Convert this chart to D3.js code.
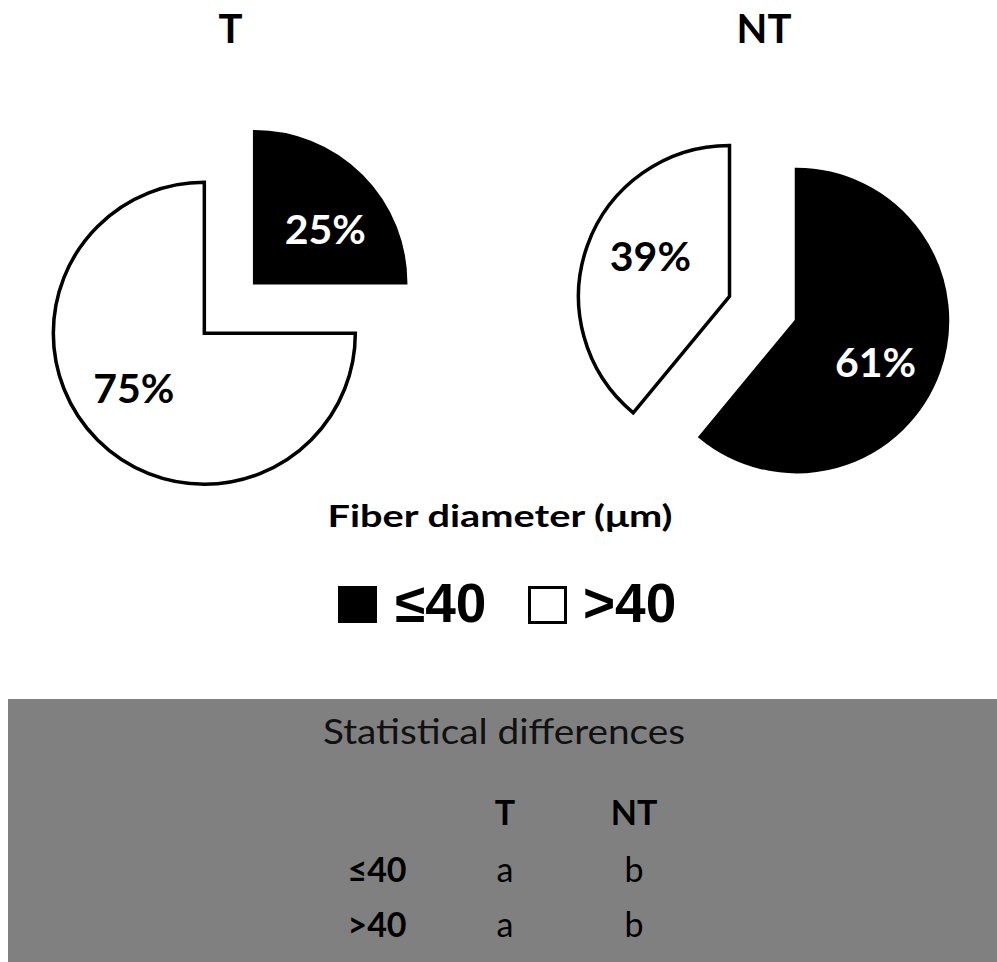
<!DOCTYPE html>
<html>
<head>
<meta charset="utf-8">
<script src="https://cdn.jsdelivr.net/npm/d3@7"></script>
<style>
  html, body { margin: 0; padding: 0; background: #fff; }
  svg { display: block; }
</style>
</head>
<body>
<svg id="chart" width="997" height="962"></svg>
<script>
// ---- data ----
const groups = ["T", "NT"];
const categories = ["≤40", ">40"];
const valuesT = [25, 75];
const valuesNT = [61, 39];
const statT = ["a", "a"];
const statNT = ["b", "b"];
const axisTitle = "Fiber diameter (μm)";
const tableTitle = "Statistical differences";

// ---- layout ----
const W = 997, H = 962;
const svg = d3.select("#chart");
const fills = d3.scaleOrdinal().domain(categories).range(["#000", "#fff"]);
const labelColor = d3.scaleOrdinal().domain(categories).range(["#fff", "#000"]);

const R = 151;
const explode = 35.6;
const labelR = 89;
const labelShift = 7.5 * Math.PI / 180;
const centers = { "T": [229.5, 308], "NT": [763, 308.5] };
const seriesByGroup = { "T": valuesT, "NT": valuesNT };

const pie = d3.pie().sort(null).value(d => d.v).startAngle(0);
const arc = d3.arc().innerRadius(0).outerRadius(R);

groups.forEach(g => {
  const [cx, cy] = centers[g];
  const data = categories.map((c, i) => ({ c, v: seriesByGroup[g][i] }));
  const arcs = pie(data);
  const gg = svg.append("g").attr("transform", `translate(${cx},${cy})`);
  const slice = gg.selectAll("g.slice").data(arcs).enter().append("g")
    .attr("class", "slice")
    .attr("transform", d => {
      const m = (d.startAngle + d.endAngle) / 2;
      return `translate(${Math.sin(m) * explode},${-Math.cos(m) * explode})`;
    });
  slice.append("path")
    .attr("d", arc)
    .attr("fill", d => fills(d.data.c))
    .attr("stroke", "#000")
    .attr("stroke-width", 3.5)
    .attr("stroke-linejoin", "miter");
  slice.append("text")
    .attr("x", d => Math.sin((d.startAngle + d.endAngle) / 2 + labelShift) * labelR)
    .attr("y", d => -Math.cos((d.startAngle + d.endAngle) / 2 + labelShift) * labelR)
    .attr("text-anchor", "middle")
    .attr("dominant-baseline", "central")
    .attr("font-family", "Lato, 'Open Sans', sans-serif")
    .attr("font-weight", "bold")
    .attr("font-size", 41)
    .attr("fill", d => labelColor(d.data.c))
    .text(d => d.data.v + "%");

  svg.append("text")
    .attr("x", cx + 1)
    .attr("y", 43)
    .attr("text-anchor", "middle")
    .attr("font-family", "Lato, sans-serif")
    .attr("font-weight", "bold")
    .attr("font-size", 40)
    .attr("fill", "#000")
    .text(g);
});

// axis title
svg.append("text")
  .attr("x", 500).attr("y", 527)
  .attr("text-anchor", "middle")
  .attr("font-family", "Lato, sans-serif")
  .attr("font-weight", "bold")
  .attr("font-size", 30)
  .attr("textLength", 345).attr("lengthAdjust", "spacingAndGlyphs")
  .attr("fill", "#000")
  .text(axisTitle);

// legend
const legendX = [338, 528];
const legendTextX = [395, 583];
categories.forEach((c, i) => {
  svg.append("rect")
    .attr("x", legendX[i] + (i ? 1.5 : 0)).attr("y", 586 + (i ? 1.5 : 0))
    .attr("width", i ? 36 : 39).attr("height", i ? 35 : 37)
    .attr("fill", fills(c))
    .attr("stroke", i ? "#000" : "none")
    .attr("stroke-width", 3);
  svg.append("text")
    .attr("x", legendTextX[i]).attr("y", 622)
    .attr("font-family", "'Liberation Sans', Arial, sans-serif")
    .attr("font-weight", "bold")
    .attr("font-size", 55)
    .attr("fill", "#000")
    .text(c);
});

// statistics panel
svg.append("rect")
  .attr("x", 8).attr("y", 699)
  .attr("width", W - 8).attr("height", H - 699)
  .attr("fill", "#808080");

svg.append("text")
  .attr("x", 504).attr("y", 744)
  .attr("text-anchor", "middle")
  .attr("font-family", "Lato, sans-serif")
  .attr("font-size", 34)
  .attr("textLength", 362).attr("lengthAdjust", "spacingAndGlyphs")
  .attr("fill", "#111")
  .text(tableTitle);

const colX = d3.scaleOrdinal().domain(groups).range([505, 634]);
const rowY = d3.scaleOrdinal().domain(categories).range([882, 937]);
const tableFont = "Lato, sans-serif";

groups.forEach(g => {
  svg.append("text")
    .attr("x", colX(g)).attr("y", 825)
    .attr("text-anchor", "middle")
    .attr("font-family", tableFont)
    .attr("font-weight", "bold")
    .attr("font-size", 34)
    .attr("fill", "#000")
    .text(g);
});
categories.forEach((c, i) => {
  svg.append("text")
    .attr("x", 377).attr("y", rowY(c))
    .attr("text-anchor", "middle")
    .attr("font-family", tableFont)
    .attr("font-weight", "bold")
    .attr("font-size", 34)
    .attr("fill", "#000")
    .text(c);
  svg.append("text")
    .attr("x", colX("T")).attr("y", rowY(c))
    .attr("text-anchor", "middle")
    .attr("font-family", tableFont)
    .attr("font-size", 34)
    .attr("fill", "#000")
    .text(statT[i]);
  svg.append("text")
    .attr("x", colX("NT")).attr("y", rowY(c))
    .attr("text-anchor", "middle")
    .attr("font-family", tableFont)
    .attr("font-size", 34)
    .attr("fill", "#000")
    .text(statNT[i]);
});
</script>
</body>
</html>
